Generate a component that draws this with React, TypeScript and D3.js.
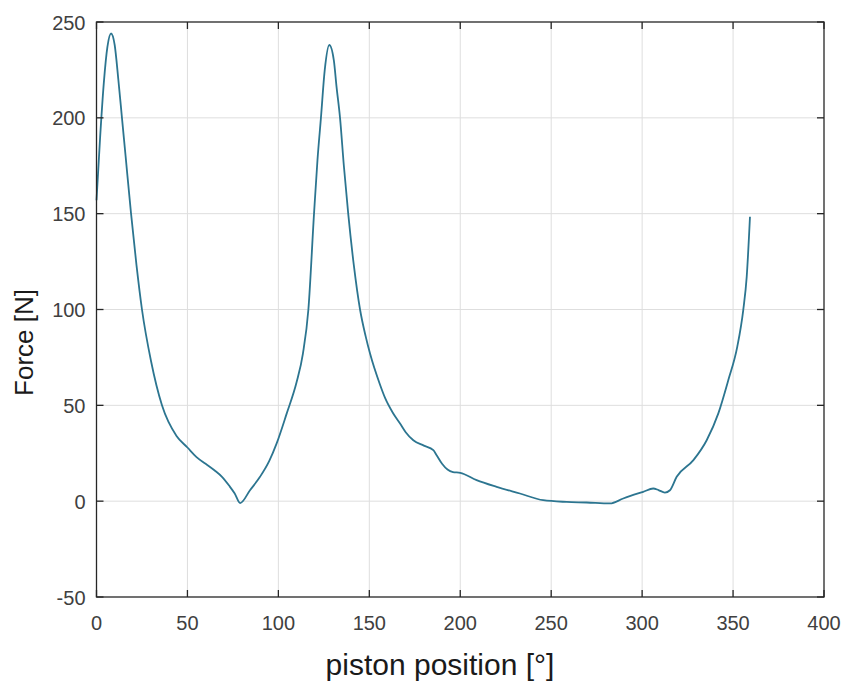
import React from "react";
import * as d3 from "d3";

const angle = [0, 2, 4, 6, 8, 10, 12, 14, 16, 19, 22, 25, 30, 36, 44, 50, 55, 60, 65, 69, 73, 76, 79, 84.4, 89.9, 95, 99, 104.6, 110, 113.5, 116.5, 119.6, 121.5, 123.4, 125.5, 128, 130.5, 132, 133.9, 136, 138.4, 141.5, 144.9, 148, 150.4, 155.8, 158.6, 163, 166.9, 170, 174.2, 180, 185.2, 187, 190, 193, 196, 200, 209, 220, 232.8, 245.6, 258.5, 269.5, 282.3, 289.6, 300.6, 306.1, 309, 312.5, 315.3, 319, 328.2, 335.5, 341.9, 347.4, 352.3, 355.6, 357.5, 359.3];
const force = [157, 190, 218, 237, 244, 238, 220, 200, 180, 150, 123, 100, 73, 50, 34, 28, 23, 19.5, 16, 12.7, 8, 4, -1, 5.7, 12.7, 21, 30, 45.8, 62, 77, 100, 150, 178, 200, 225, 238, 230, 216, 200, 175, 150, 123, 100, 86, 77, 61, 54, 46, 40.5, 36, 31.8, 29, 26.6, 24, 19.5, 16.5, 15.2, 14.8, 11, 7.5, 4, 0.5, -0.4, -0.7, -1.2, 1.4, 4.9, 6.6, 5.8, 4.5, 5.7, 12.7, 21.4, 31.8, 45.8, 63.2, 80.5, 99.7, 117, 148.4];

const xTicks = [0, 50, 100, 150, 200, 250, 300, 350, 400];
const yTicks = [-50, 0, 50, 100, 150, 200, 250];

const xLabel = "piston position [°]";
const yLabel = "Force [N]";

export default function App() {
  const W = 843, H = 682;
  const L = 96.5, R = 824, T = 22, B = 597;
  const x = d3.scaleLinear().domain([0, 400]).range([L, R]);
  const y = d3.scaleLinear().domain([-50, 250]).range([B, T]);
  const pts = angle.map((a, i) => [a, force[i]] as [number, number]);
  const line = d3
    .line<[number, number]>()
    .x((d) => x(d[0]))
    .y((d) => y(d[1]))
    .curve(d3.curveMonotoneX);
  const axisColor = "#262626";
  const tickLen = 7;
  const font = "'Liberation Sans', Arial, Helvetica, sans-serif";
  return (
    <svg
      width={W}
      height={H}
      style={{ position: "fixed", left: 0, top: 0, background: "#fff" }}
      fontFamily={font}
    >
      <rect x={0} y={0} width={W} height={H} fill="#fff" />
      {xTicks.slice(1, -1).map((t) => (
        <line key={"gx" + t} x1={x(t)} x2={x(t)} y1={T} y2={B} stroke="#dedede" strokeWidth={1} />
      ))}
      {yTicks.slice(1, -1).map((t) => (
        <line key={"gy" + t} x1={L} x2={R} y1={y(t)} y2={y(t)} stroke="#dedede" strokeWidth={1} />
      ))}
      <path d={line(pts) || ""} fill="none" stroke="#2c7590" strokeWidth={1.8} strokeLinejoin="round" />
      <rect x={L} y={T} width={R - L} height={B - T} fill="none" stroke={axisColor} strokeWidth={1.3} />
      {xTicks.map((t) => (
        <g key={"tx" + t}>
          <line x1={x(t)} x2={x(t)} y1={B} y2={B - tickLen} stroke={axisColor} strokeWidth={1.3} />
          <line x1={x(t)} x2={x(t)} y1={T} y2={T + tickLen} stroke={axisColor} strokeWidth={1.3} />
          <text x={x(t)} y={B + 33} textAnchor="middle" fontSize={20} fill="#404040">
            {t}
          </text>
        </g>
      ))}
      {yTicks.map((t) => (
        <g key={"ty" + t}>
          <line x1={L} x2={L + tickLen} y1={y(t)} y2={y(t)} stroke={axisColor} strokeWidth={1.3} />
          <line x1={R} x2={R - tickLen} y1={y(t)} y2={y(t)} stroke={axisColor} strokeWidth={1.3} />
          <text x={L - 11} y={y(t) + 7.5} textAnchor="end" fontSize={20} fill="#404040">
            {t}
          </text>
        </g>
      ))}
      <text x={440} y={675} textAnchor="middle" fontSize={30} fill="#1a1a1a">
        {xLabel}
      </text>
      <text
        transform={`translate(33, 342.5) rotate(-90)`}
        textAnchor="middle"
        fontSize={26}
        fill="#1a1a1a"
      >
        {yLabel}
      </text>
    </svg>
  );
}
